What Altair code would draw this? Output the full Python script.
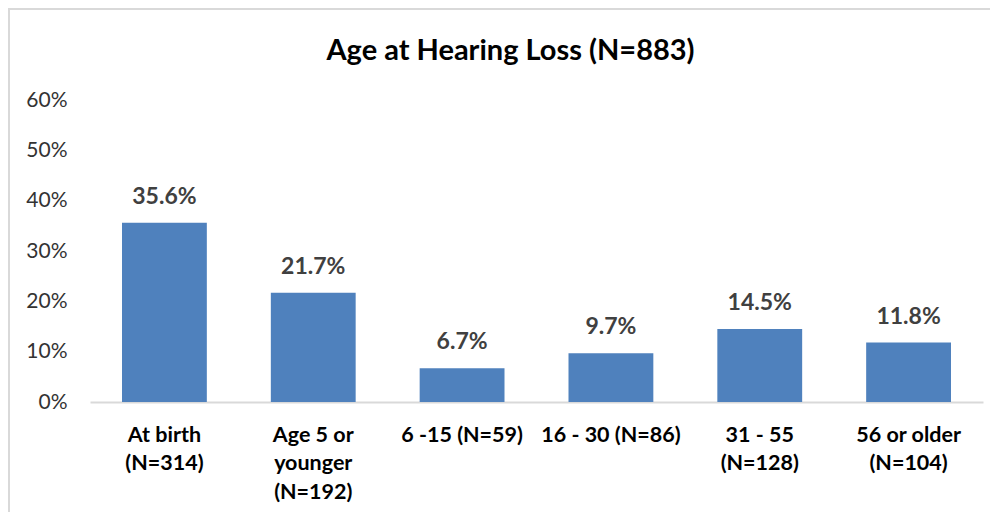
import altair as alt
import pandas as pd

categories = ["At birth|(N=314)", "Age 5 or|younger|(N=192)", "6 -15 (N=59)",
              "16 - 30 (N=86)", "31 - 55|(N=128)", "56 or older|(N=104)"]
values = [35.6, 21.7, 6.7, 9.7, 14.5, 11.8]
y_ticks = [0, 10, 20, 30, 40, 50, 60]

df = pd.DataFrame({"cat": categories, "val": values,
                   "lbl": [f"{v:.1f}%" for v in values]})

x_enc = alt.X("cat:N", sort=categories, title=None,
              scale=alt.Scale(paddingInner=0.43, paddingOuter=0.215),
              axis=alt.Axis(labelAngle=0, labelExpr="split(datum.label, '|')",
                            labelFontSize=21.5, labelFontWeight="bold", labelColor="#000000",
                            labelLineHeight=28.5, labelBaseline="top", labelPadding=22,
                            ticks=False, domainColor="#D9D9D9", domainWidth=2,
                            grid=False, labelLimit=300))
y_enc = alt.Y("val:Q", title=None,
              scale=alt.Scale(domain=[0, 60], nice=False),
              axis=alt.Axis(values=y_ticks, labelExpr="datum.value + '%'",
                            labelFontSize=21, labelColor="#333333", labelPadding=23,
                            ticks=False, domain=False, grid=False))

bars = alt.Chart(df).mark_bar(color="#4F81BD").encode(x=x_enc, y=y_enc)

labels = alt.Chart(df).mark_text(fontSize=23, fontWeight="bold", color="#404040",
                                 baseline="alphabetic", dy=-19).encode(
    x=alt.X("cat:N", sort=categories), y="val:Q", text="lbl:N")

border = alt.Chart(pd.DataFrame({"a": [0]})).mark_rect(
    fill=None, stroke="#D9D9D9", strokeWidth=2).encode(
    x=alt.value(-81), x2=alt.value(1000), y=alt.value(-91), y2=alt.value(600))

chart = alt.layer(border, bars, labels).properties(
    width=893, height=302,
    title=alt.TitleParams("Age at Hearing Loss (N=883)", fontSize=29, fontWeight="bold",
                          color="#000000", anchor="middle", dx=-26, offset=-81,
                          baseline="alphabetic"),
    padding={"left": 82, "top": 92, "right": 7, "bottom": 110},
    autosize=alt.AutoSizeParams(type="none"),
).configure(font="Lato").configure_view(stroke=None)

chart.save("out.html", embed_options={"renderer": "svg", "actions": False})
